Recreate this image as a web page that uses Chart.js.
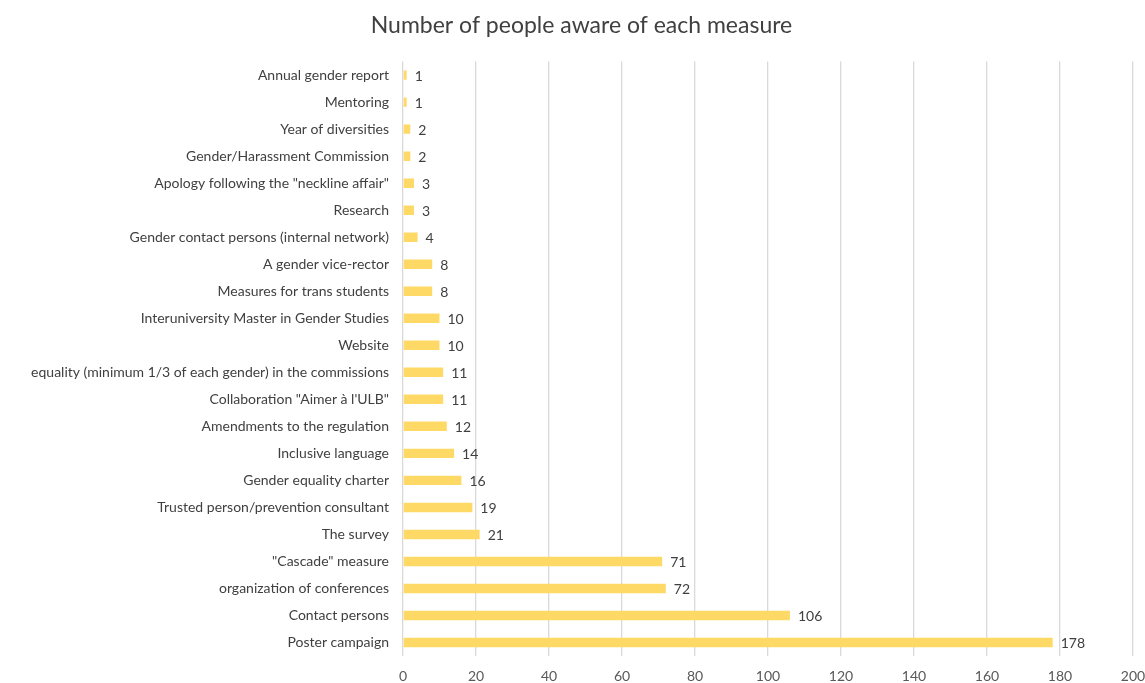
<!DOCTYPE html>
<html>
<head>
<meta charset="utf-8">
<script src="https://cdn.jsdelivr.net/npm/chart.js@4/dist/chart.umd.min.js"></script>
<style>
html,body{margin:0;padding:0;background:#fff;}
#wrap{width:1145px;height:683px;}
</style>
</head>
<body>
<div id="wrap"><canvas id="c" width="1145" height="683"></canvas></div>
<script>
const titleText = 'Number of people aware of each measure';
const categories = [
  'Annual gender report',
  'Mentoring',
  'Year of diversities',
  'Gender/Harassment Commission',
  'Apology following the "neckline affair"',
  'Research',
  'Gender contact persons (internal network)',
  'A gender vice-rector',
  'Measures for trans students',
  'Interuniversity Master in Gender Studies',
  'Website',
  'equality (minimum 1/3 of each gender) in the commissions',
  'Collaboration "Aimer à l\'ULB"',
  'Amendments to the regulation',
  'Inclusive language',
  'Gender equality charter',
  'Trusted person/prevention consultant',
  'The survey',
  '"Cascade" measure',
  'organization of conferences',
  'Contact persons',
  'Poster campaign'
];
const counts = [1, 1, 2, 2, 3, 3, 4, 8, 8, 10, 10, 11, 11, 12, 14, 16, 19, 21, 71, 72, 106, 178];
const xTicks = [0, 20, 40, 60, 80, 100, 120, 140, 160, 180, 200];

const FONT = 'Lato, "Open Sans", sans-serif';

const valueLabels = {
  id: 'valueLabels',
  afterDatasetsDraw(chart) {
    const ctx = chart.ctx;
    const meta = chart.getDatasetMeta(0);
    ctx.save();
    ctx.font = '14px ' + FONT;
    ctx.fillStyle = '#404040';
    ctx.textBaseline = 'middle';
    ctx.textAlign = 'left';
    meta.data.forEach((bar, i) => {
      ctx.fillText(String(chart.data.datasets[0].data[i]), bar.x + 8, bar.y + 1);
    });
    ctx.restore();
  }
};

new Chart(document.getElementById('c'), {
  type: 'bar',
  data: {
    labels: categories,
    datasets: [{
      data: counts,
      backgroundColor: '#FFD966',
      borderWidth: 0,
      barPercentage: 0.35,
      categoryPercentage: 1.0
    }]
  },
  options: {
    indexAxis: 'y',
    responsive: false,
    animation: false,
    layout: { padding: { left: 30, right: 12, top: 0, bottom: 0 } },
    plugins: {
      legend: { display: false },
      tooltip: { enabled: false },
      title: {
        display: true,
        text: titleText,
        color: '#404040',
        font: { family: FONT, size: 23, weight: 'normal' },
        padding: { top: 12, bottom: 22 }
      }
    },
    scales: {
      y: {
        grid: { display: false },
        border: { display: false },
        ticks: {
          color: '#404040',
          font: { family: FONT, size: 14 },
          padding: 6,
          autoSkip: false
        },
        afterFit(scale) { scale.width = 373; }
      },
      x: {
        min: 0,
        max: 200,
        afterBuildTicks(scale) { scale.ticks = xTicks.map(v => ({ value: v })); },
        grid: { color: '#d9d9d9', lineWidth: 1.3, drawTicks: false },
        border: { display: false },
        ticks: {
          color: '#595959',
          font: { family: FONT, size: 14 },
          padding: 12,
          maxRotation: 0
        },
        afterFit(scale) { scale.height = 27; scale.paddingRight = 0; scale.paddingLeft = 0; }
      }
    }
  },
  plugins: [valueLabels]
});
</script>
</body>
</html>
